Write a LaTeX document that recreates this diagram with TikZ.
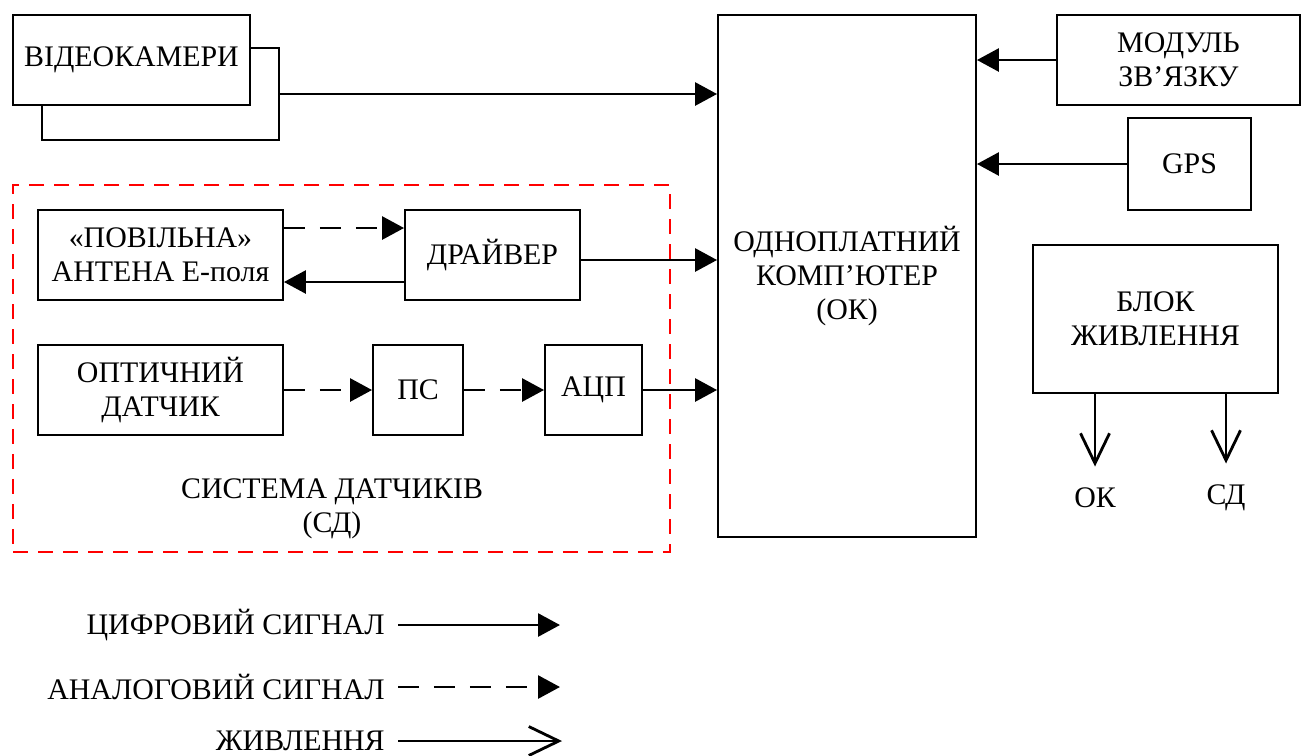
\documentclass[tikz,border=0pt]{standalone}
\usepackage{fontspec}
\setmainfont{Liberation Serif}
\usetikzlibrary{arrows.meta,positioning}
\usepackage{xcolor}
\definecolor{cred}{HTML}{FF0000}

\tikzset{
  blok/.style={draw, line width=1.1pt, fill=white, align=center, inner sep=0pt},
  cifr/.style={line width=1.6pt, -{Triangle[length=0.44cm,width=0.46cm]}},
  analog/.style={cifr, dash pattern=on 0.42cm off 0.3cm},
  zhyv/.style={line width=1.6pt, -{Straight Barb[length=0.6cm,width=0.58cm,line width=1.6pt]}},
  ramka/.style={draw=cred, line width=1.3pt, dash pattern=on 0.3cm off 0.2cm}
}

\begin{document}
\begin{tikzpicture}[x=0.02cm, y=-0.02cm, font=\fontsize{17}{19.6}\selectfont]
  \useasboundingbox (0,0) rectangle (1304,755);

  % cameras
  \node[blok, minimum width=4.74cm, minimum height=1.84cm] (cam2) at (160.5,94) {};
  \node[blok, minimum width=4.74cm, minimum height=1.8cm] (cam) at (131.5,60) {ВІДЕОКАМЕРИ};

  % single-board computer
  \node[blok, minimum width=5.16cm, minimum height=10.44cm] (ok) at (847,276)
    {ОДНОПЛАТНИЙ\\КОМП’ЮТЕР\\(ОК)};

  \node[blok, minimum width=4.86cm, minimum height=1.8cm] (mod) at (1178.5,60) {МОДУЛЬ\\ЗВ’ЯЗКУ};
  \node[blok, minimum width=2.46cm, minimum height=1.84cm] (gps) at (1189.5,164) {GPS};
  \node[blok, minimum width=4.9cm, minimum height=2.96cm] (blk) at (1155.5,319) {БЛОК\\ЖИВЛЕННЯ};
  \node[inner xsep=0pt, inner ysep=12pt] (okl) at (1095,498) {ОК};
  \node[inner xsep=0pt, inner ysep=12pt] (sdl) at (1226,498) {СД};

  % sensor system
  \node[ramka, minimum width=13.14cm, minimum height=7.34cm] (sd) at (341.5,368.5) {};
  \node[blok, minimum width=4.9cm, minimum height=1.8cm] (ant) at (160.5,255)
    {«ПОВІЛЬНА»\\АНТЕНА Е-поля};
  \node[blok, minimum width=3.5cm, minimum height=1.8cm] (drv) at (492.5,255) {ДРАЙВЕР};
  \node[blok, minimum width=4.9cm, minimum height=1.8cm] (opt) at (160.5,390) {ОПТИЧНИЙ\\ДАТЧИК};
  \node[blok, minimum width=1.8cm, minimum height=1.8cm] (ps) at (418,390) {ПС};
  \node[blok, minimum width=1.94cm, minimum height=1.8cm] (acp) at (593.5,390) {АЦП};
  \node[align=center] (sdt) at (332,509) {СИСТЕМА ДАТЧИКІВ\\(СД)};

  \draw[cifr] (cam2.east) -- (cam2.east -| ok.west);
  \draw[cifr] (mod.west) -- (mod.west -| ok.east);
  \draw[cifr] (gps.west) -- (gps.west -| ok.east);
  \draw[analog] ([yshift=0.54cm]ant.east) -- ([yshift=0.54cm]drv.west);
  \draw[cifr] ([yshift=-0.54cm]drv.west) -- ([yshift=-0.54cm]ant.east);
  \draw[cifr] ([yshift=-0.1cm]drv.east) -- ([yshift=-0.1cm]drv.east -| ok.west);
  \draw[analog] (opt.east) -- (ps.west);
  \draw[analog] (ps.east) -- (acp.west);
  \draw[cifr] (acp.east) -- (acp.east -| ok.west);
  \draw[zhyv] (blk.south -| okl) -- (okl.north);
  \draw[zhyv] (blk.south -| sdl) -- (sdl.north);

  % legend
  \node[anchor=east, inner sep=0pt] (lg1) at (385,625) {ЦИФРОВИЙ СИГНАЛ};
  \node[anchor=east, inner sep=0pt] (lg2) at (385,687) {АНАЛОГОВИЙ СИГНАЛ};
  \node[anchor=east, inner sep=0pt] (lg3) at (385,741) {ЖИВЛЕННЯ};
  \coordinate (e1) at (560,625);
  \coordinate (e2) at (560,687);
  \coordinate (e3) at (562,741);
  \draw[cifr] ([xshift=0.26cm]lg1.east) -- (e1);
  \draw[analog] ([xshift=0.26cm]lg2.east) -- (e2);
  \draw[zhyv] ([xshift=0.26cm]lg3.east) -- (e3);
\end{tikzpicture}
\end{document}
